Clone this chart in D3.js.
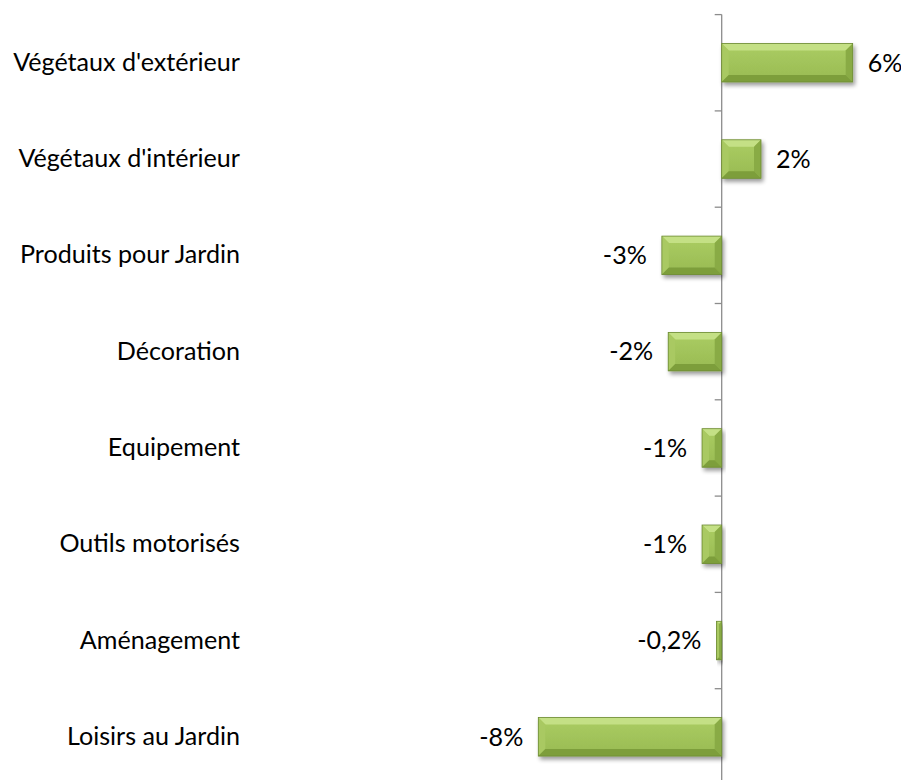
<!DOCTYPE html>
<html><head><meta charset="utf-8">
<script src="https://cdn.jsdelivr.net/npm/d3@7"></script>
<style>body{margin:0;background:#fff}svg{display:block}</style>
</head><body>
<svg id="c" width="901" height="780"></svg>
<script>
const categories = ["Végétaux d'extérieur","Végétaux d'intérieur","Produits pour Jardin","Décoration","Equipement","Outils motorisés","Aménagement","Loisirs au Jardin"];
const values = [6.0, 1.8, -2.74, -2.45, -0.9, -0.9, -0.24, -8.4];
const labels = ["6%","2%","-3%","-2%","-1%","-1%","-0,2%","-8%"];

const svg = d3.select("#c");
const FONT = "Lato, 'Open Sans', sans-serif";
const x = d3.scaleLinear().domain([-8.4, 6.0]).range([538.3, 852.7]);
const y = d3.scaleBand().domain(categories).range([14.6, 785]).paddingInner(0.6).paddingOuter(0.3);

// fit font size so first category label width ≈ 227px
const probe = svg.append("text").attr("font-family",FONT).attr("font-size",20).text(categories[0]);
const fs = 20 * 227 / probe.node().getComputedTextLength();
probe.remove();

const defs = svg.append("defs");
const f = defs.append("filter").attr("id","sh").attr("x","-20%").attr("y","-20%").attr("width","140%").attr("height","160%");
f.append("feGaussianBlur").attr("in","SourceAlpha").attr("stdDeviation",2);
f.append("feOffset").attr("dx",2).attr("dy",3).attr("result","b");
f.append("feComponentTransfer").append("feFuncA").attr("type","linear").attr("slope",0.4);
const m = f.append("feMerge"); m.append("feMergeNode"); m.append("feMergeNode").attr("in","SourceGraphic");
const g = defs.append("linearGradient").attr("id","gr").attr("x1",0).attr("y1",0).attr("x2",0).attr("y2",1);
g.append("stop").attr("offset","0%").attr("stop-color","#abcd62");
g.append("stop").attr("offset","100%").attr("stop-color","#98ba53");

const x0 = x(0);
const band = y.step();
const axisG = svg.append("g");
axisG.append("line").attr("x1",x0).attr("x2",x0).attr("y1",14.6).attr("y2",785).attr("stroke","#8c8c8c").attr("stroke-width",1.3);
const edges = d3.range(categories.length+1).map(i => y.range()[0] + i*band);
axisG.selectAll("line.t").data(edges).join("line").attr("class","t")
  .attr("x1",x0-7).attr("x2",x0).attr("y1",d=>d).attr("y2",d=>d).attr("stroke","#8c8c8c").attr("stroke-width",1.3);

const yAxis = d3.axisLeft(d3.scaleBand().domain(categories).range([14.6,785])).tickSize(0).tickPadding(0);
const ya = svg.append("g").attr("transform","translate(240,0)").call(yAxis);
ya.select(".domain").remove();
ya.selectAll("text").attr("font-family",FONT).attr("font-size",fs).attr("fill","#000");

const bars = svg.append("g").selectAll("g").data(categories).join("g").attr("filter","url(#sh)");
bars.each(function(c,i){
  const v = values[i];
  const bx = Math.min(x(v), x0), bw = Math.abs(x(v)-x0);
  const cy = y(c) + y.bandwidth()/2;
  const bh = 38.5, by = cy - bh/2;
  const s = d3.select(this);
  const b = Math.min(7, bw/2, bh/2);
  s.append("rect").attr("x",bx).attr("y",by).attr("width",bw).attr("height",bh).attr("fill","url(#gr)");
  const P = pts => pts.map(p=>p.join(",")).join(" ");
  s.append("polygon").attr("points",P([[bx,by],[bx+bw,by],[bx+bw-b,by+b],[bx+b,by+b]])).attr("fill","#c4e085");
  s.append("polygon").attr("points",P([[bx,by],[bx+b,by+b],[bx+b,by+bh-b],[bx,by+bh]])).attr("fill","#a9c962");
  s.append("polygon").attr("points",P([[bx+bw,by],[bx+bw,by+bh],[bx+bw-b,by+bh-b],[bx+bw-b,by+b]])).attr("fill","#89ab45");
  s.append("polygon").attr("points",P([[bx,by+bh],[bx+b,by+bh-b],[bx+bw-b,by+bh-b],[bx+bw,by+bh]])).attr("fill","#7d9e3b");
  s.append("rect").attr("x",bx).attr("y",by).attr("width",bw).attr("height",bh).attr("fill","none").attr("stroke","#6d8a34").attr("stroke-width",0.8);
});

svg.append("g").selectAll("text").data(categories).join("text")
  .attr("x",(c,i)=> values[i] >= 0 ? x(values[i]) + 15 : x(values[i]) - 15)
  .attr("y",c=> y(c)+y.bandwidth()/2)
  .attr("dy","0.35em")
  .attr("text-anchor",(c,i)=> values[i] >= 0 ? "start" : "end")
  .attr("font-family",FONT).attr("font-size",fs).attr("fill","#000")
  .text((c,i)=>labels[i]);
</script>
</body></html>
